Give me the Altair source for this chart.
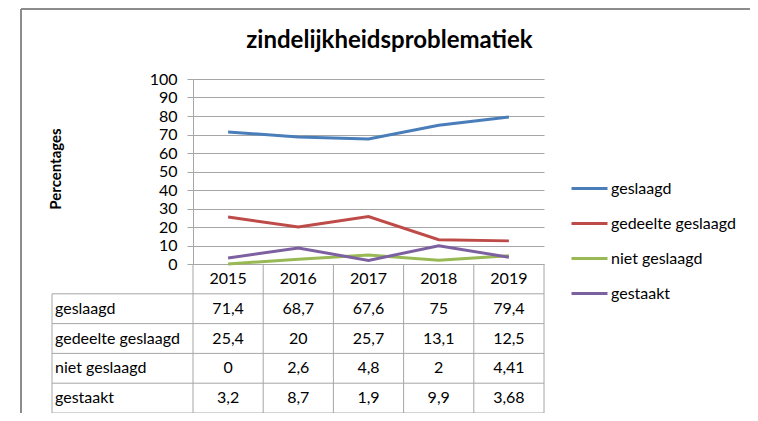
import altair as alt
import pandas as pd

# ---- data -------------------------------------------------------------
years = ["2015", "2016", "2017", "2018", "2019"]
series = ["geslaagd", "gedeelte geslaagd", "niet geslaagd", "gestaakt"]
geslaagd = [71.4, 68.7, 67.6, 75, 79.4]
gedeelte_geslaagd = [25.4, 20, 25.7, 13.1, 12.5]
niet_geslaagd = [0, 2.6, 4.8, 2, 4.41]
gestaakt = [3.2, 8.7, 1.9, 9.9, 3.68]
colors = ["#4A7EBB", "#BE4B48", "#98B954", "#7D60A0"]
y_ticks = list(range(0, 101, 10))
title_text = "zindelijkheidsproblematiek"

values = [geslaagd, gedeelte_geslaagd, niet_geslaagd, gestaakt]

rows = []
for s, vals in zip(series, values):
    for y, v in zip(years, vals):
        rows.append({"year": y, "series": s, "value": v,
                     "label": f"{v:g}".replace(".", ",")})
df = pd.DataFrame(rows)

table_rows = ["hdr"] + series
hdr = pd.DataFrame({"year": years, "row": "hdr", "label": years})
cells = df.rename(columns={"series": "row"})[["year", "row", "label"]]
names = pd.DataFrame({"row": series})

# ---- layout constants ---------------------------------------------------
W, H = 351, 185
T0, T1 = 185, 334          # table top / bottom (plot coordinates)
LCOL = -141                # left edge of label column
FONT = "Lato"
FS = 16
GRID = "#A6A6A6"

xscale = alt.Scale(type="band", domain=years, paddingInner=0, paddingOuter=0)
rscale = alt.Scale(type="band", domain=table_rows, range=[T0, T1],
                   paddingInner=0, paddingOuter=0)

lines = alt.Chart(df).mark_line(strokeWidth=3).encode(
    x=alt.X("year:N", scale=xscale, axis=None),
    y=alt.Y("value:Q", scale=alt.Scale(domain=[0, 100]),
            axis=alt.Axis(values=y_ticks, title="Percentages", grid=True,
                          titleFontSize=15, titleFontWeight="bold",
                          titleFont=FONT, titleAngle=-90, titleColor="#000",
                          titleX=-138, titleY=H / 2 - 3, titleAlign="center",
                          titleBaseline="middle",
                          labelFont=FONT, labelFontSize=FS, labelColor="#000",
                          labelPadding=10, tickSize=6, tickColor=GRID,
                          domainColor=GRID, gridColor=GRID)),
    color=alt.Color("series:N", scale=alt.Scale(domain=series, range=colors),
                    legend=alt.Legend(orient="none", legendX=377, legendY=90,
                                      title=None, symbolType="stroke",
                                      symbolStrokeWidth=3, symbolSize=1296,
                                      labelFont=FONT, labelFontSize=FS,
                                      labelColor="#000", labelOffset=2,
                                      rowPadding=7)),
    order=alt.value(0),
)

text_common = dict(font=FONT, fontSize=FS, color="#000")

hdr_text = alt.Chart(hdr).mark_text(**text_common).encode(
    x=alt.X("year:N", scale=xscale, axis=None),
    y=alt.Y("row:N", scale=rscale, axis=None),
    text="label:N",
)
cell_text = alt.Chart(cells).mark_text(**text_common).encode(
    x=alt.X("year:N", scale=xscale, axis=None),
    y=alt.Y("row:N", scale=rscale, axis=None),
    text="label:N",
)
name_text = alt.Chart(names).mark_text(align="left", **text_common).encode(
    x=alt.value(LCOL + 3),
    y=alt.Y("row:N", scale=rscale, axis=None),
    text="row:N",
)

# table grid
hlines = alt.Chart(names).mark_rule(color=GRID, strokeWidth=1).encode(
    y=alt.Y("row:N", scale=rscale, axis=None, bandPosition=0),
    x=alt.value(LCOL), x2=alt.value(W),
)
hbottom = alt.Chart(pd.DataFrame({"row": [series[-1]]})).mark_rule(
    color=GRID, strokeWidth=1).encode(
    y=alt.Y("row:N", scale=rscale, axis=None, bandPosition=1),
    x=alt.value(LCOL), x2=alt.value(W),
)
vlines = alt.Chart(pd.DataFrame({"year": years})).mark_rule(
    color=GRID, strokeWidth=1).encode(
    x=alt.X("year:N", scale=xscale, axis=None, bandPosition=0),
    y=alt.value(T0), y2=alt.value(T1),
)
vright = alt.Chart(pd.DataFrame({"year": [years[-1]]})).mark_rule(
    color=GRID, strokeWidth=1).encode(
    x=alt.X("year:N", scale=xscale, axis=None, bandPosition=1),
    y=alt.value(T0), y2=alt.value(T1),
)
vleft = alt.Chart(pd.DataFrame({"k": [0]})).mark_rule(
    color=GRID, strokeWidth=1).encode(
    x=alt.value(LCOL), y=alt.value(T0 + (T1 - T0) / 5), y2=alt.value(T1),
)

# outer frame
frame_v = alt.Chart(pd.DataFrame({"k": [0]})).mark_rule(
    color="#8C8C8C", strokeWidth=2).encode(
    x=alt.value(-172), y=alt.value(-70), y2=alt.value(360),
)
frame_h = alt.Chart(pd.DataFrame({"k": [0]})).mark_rule(
    color="#8C8C8C", strokeWidth=2).encode(
    y=alt.value(-70), x=alt.value(-172), x2=alt.value(600),
)

title = alt.Chart(pd.DataFrame({"t": [title_text]})).mark_text(
    font=FONT, fontSize=24, fontWeight="bold", color="#000",
    align="center", baseline="middle").encode(
    x=alt.value(W / 2 + 21), y=alt.value(-38), text="t:N",
)

chart = alt.layer(
    frame_v, frame_h, hlines, hbottom, vlines, vright, vleft,
    lines, hdr_text, cell_text, name_text, title,
).resolve_scale(y="independent").properties(
    width=W, height=H,
    autosize=alt.AutoSizeParams(type="none"),
    padding={"left": 185, "top": 71, "right": 206, "bottom": 149},
).configure_view(stroke=None)

chart.save("out.html", embed_options={"renderer": "svg", "actions": False})
